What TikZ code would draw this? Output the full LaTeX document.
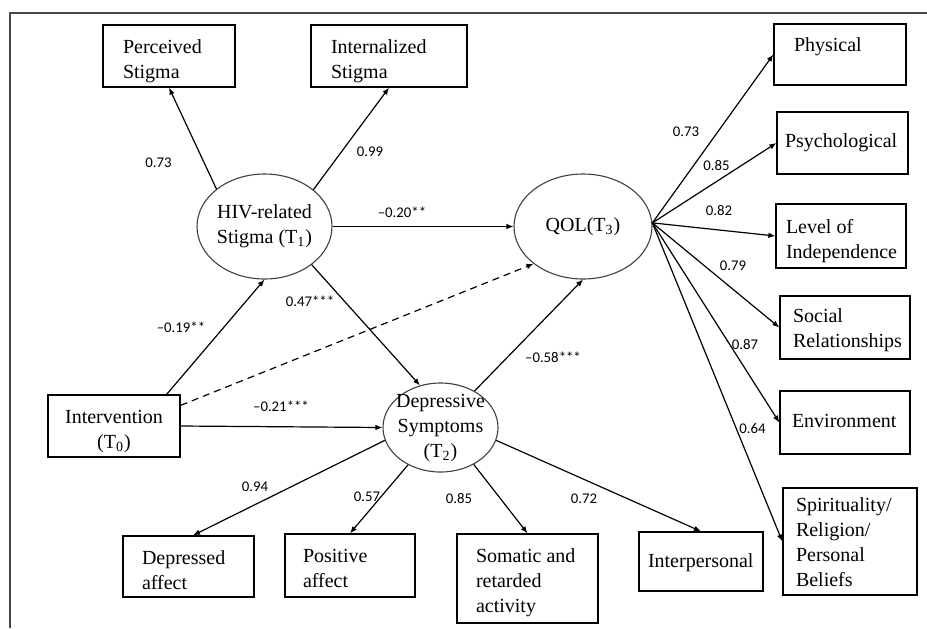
\documentclass[tikz,border=0pt]{standalone}
\usepackage{fontspec}
\setmainfont{Liberation Serif}
\newfontfamily\lblfont{Carlito}
\usetikzlibrary{shapes.geometric,arrows.meta,calc}
% #1 box height, #2 text width, #3 first baseline below top, #4 text
\newcommand\bxtext[4]{\parbox[c][#1][t]{#2}{\raggedright\rule{0pt}{#3}#4}}
\newcommand\bxtextc[4]{\parbox[c][#1][t]{#2}{\centering\rule{0pt}{#3}#4}}
\begin{document}
\begin{tikzpicture}[x=0.5pt,y=-0.5pt,
  box/.style={draw, line width=0.65pt, inner ysep=0pt, font=\fontsize{10}{12.5}\selectfont},
  lat/.style={ellipse, draw=black!75, line width=0.55pt, align=center, font=\fontsize{10}{12.5}\selectfont},
  arr/.style={line width=0.6pt, -{Latex[length=3.5pt,width=2.8pt]}},
  dsh/.style={dash pattern=on 3.5pt off 2.5pt},
  lbl/.style={font=\lblfont\fontsize{7.4}{8}\selectfont, inner sep=0pt}]
\useasboundingbox (0,0) rectangle (927,628);
% frame
\draw[line width=0.75pt, black!72] (10,628) -- (10,13) -- (927,13);

% latent variables
\node[lat, minimum width=67.5pt, minimum height=52.5pt, inner sep=-1pt] (hiv) at (264.5,226.5) {HIV-related\\Stigma (T\textsubscript{1})};
\node[lat, minimum width=69pt, minimum height=52.5pt, inner sep=0pt] (qol) at (583,226.5) {QOL(T\textsubscript{3})};
\node[lat, minimum width=57.5pt, minimum height=44.5pt, inner xsep=-3pt, inner ysep=-2pt] (dep) at (440.5,427.5) {Depressive\\Symptoms\\(T\textsubscript{2})};

% boxes
\node[box, inner xsep=10pt] (perc) at (169,56) {\bxtext{31pt}{46pt}{14.1pt}{Perceived\\Stigma}};
\node[box, inner xsep=10pt] (intl) at (389,56) {\bxtext{31pt}{58pt}{14.1pt}{Internalized\\Stigma}};
\node[box, inner xsep=5pt] (interv) at (114,426) {\bxtextc{31pt}{56pt}{14pt}{Intervention\\(T\textsubscript{0})}};

\node[box, inner xsep=10pt] (phys) at (840,54.5) {\bxtext{30.5pt}{46pt}{13.9pt}{Physical}};
\node[box, inner xsep=4pt] (psych) at (842.5,143) {\bxtext{31pt}{57.5pt}{17.5pt}{Psychological}};
\node[box, inner xsep=5pt] (level) at (841,236) {\bxtext{32pt}{55pt}{14.6pt}{Level of\\Independence}};
\node[box, inner xsep=6.5pt] (social) at (845,327.5) {\bxtext{31.5pt}{52pt}{13.2pt}{Social\\Relationships}};
\node[box, inner xsep=6pt] (env) at (845,422.5) {\bxtext{31.5pt}{53pt}{18pt}{Environment}};
\node[box, inner xsep=6.5pt] (spir) at (850,541.5) {\bxtext{53.5pt}{54pt}{11.9pt}{Spirituality/\\Religion/\\Personal\\Beliefs}};

\node[box, inner xsep=9.5pt] (depa) at (188.5,566.5) {\bxtext{30.5pt}{46.5pt}{14pt}{Depressed\\affect}};
\node[box, inner xsep=9pt] (posi) at (350,565.5) {\bxtext{31.5pt}{47pt}{14.2pt}{Positive\\affect}};
\node[box, inner xsep=9.5pt] (soma) at (527.5,578.5) {\bxtext{44.5pt}{51.5pt}{14.2pt}{Somatic and\\retarded\\activity}};
\node[box, inner xsep=4.5pt] (interp) at (701,561.5) {\bxtext{29.5pt}{53pt}{17.5pt}{Interpersonal}};

% structural paths
\draw[arr] (hiv.142.5) -- (perc.south);
\draw[arr] (hiv.37.5) -- (intl.south);
\draw[arr] (hiv.east) -- (qol.west);
\draw[arr] (hiv.-39) -- (dep.116.8);
\draw[arr] ($(interv.north east)+(-14,0)$) -- (hiv.south);
\draw[arr, dsh] ($(interv.north east)+(0,11)$) -- (qol.217.4);
\draw[arr] (interv.east) -- (dep.west);
\draw[arr] (dep.47.3) -- (qol.south);

% QOL indicators
\draw[arr] (qol.3.7) -- (phys.west);
\draw[arr] (qol.3.7) -- (psych.west);
\draw[arr] (qol.3.7) -- (level.west);
\draw[arr] (qol.3.7) -- (social.west);
\draw[arr] (qol.3.7) -- (env.west);
\draw[arr] (qol.3.7) -- (spir.west);

% Depressive indicators
\draw[arr] (dep.193.7) -- ($(depa.north)+(4.5,0)$);
\draw[arr] (dep.229.8) -- (posi.north);
\draw[arr] (dep.312.7) -- (soma.north);
\draw[arr] (dep.-13.4) -- (interp.north);

% labels
\node[lbl] (l1) at (158.5,163) {0.73};
\node[lbl] (l2) at (370,151.5) {0.99};
\node[lbl] (l3) at (402,212.5) {–0.20**};
\node[lbl] (l4) at (310,301.5) {0.47***};
\node[lbl] (l5) at (181,327.5) {–0.19**};
\node[lbl] (l6) at (281,406) {–0.21***};
\node[lbl] (l7) at (553,357.5) {–0.58***};
\node[lbl] (l8) at (255,486.5) {0.94};
\node[lbl] (l9) at (367,496.5) {0.57};
\node[lbl] (l10) at (459,498.5) {0.85};
\node[lbl] (l11) at (584,498.5) {0.72};
\node[lbl] (l12) at (686,131.5) {0.73};
\node[lbl] (l13) at (716.5,165) {0.85};
\node[lbl] (l14) at (719,210) {0.82};
\node[lbl] (l15) at (733,266) {0.79};
\node[lbl] (l16) at (745,344) {0.87};
\node[lbl] (l17) at (752.5,429) {0.64};
\end{tikzpicture}
\end{document}
